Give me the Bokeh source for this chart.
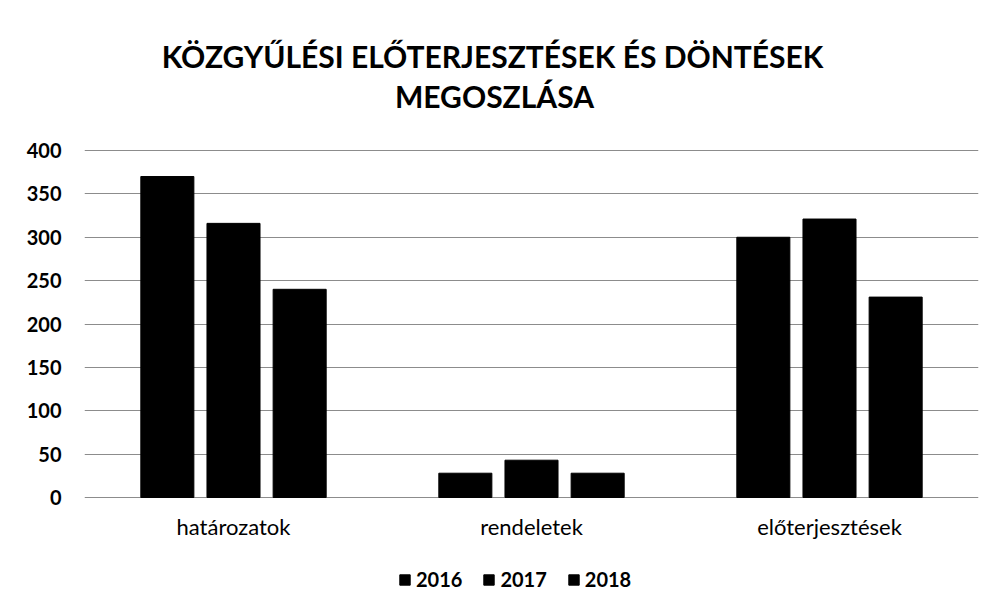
from bokeh.plotting import figure
from bokeh.models import (ColumnDataSource, FactorRange, Range1d, FixedTicker,
                          Legend, LegendItem, Label)
from bokeh.core.properties import value
from bokeh.transform import dodge
from bokeh.embed import file_html
from bokeh.resources import INLINE

categories = ["határozatok", "rendeletek", "előterjesztések"]
years = ["2016", "2017", "2018"]
v2016 = [370, 28, 300]
v2017 = [316, 43, 321]
v2018 = [240, 28, 231]
y_ticks = [0, 50, 100, 150, 200, 250, 300, 350, 400]
title_lines = ["KÖZGYŰLÉSI ELŐTERJESZTÉSEK ÉS DÖNTÉSEK", "MEGOSZLÁSA"]

FONT = "Lato"

# layout (pixels)
W, H = 984, 600
FRAME_L, FRAME_R = 84, 978
FRAME_T, FRAME_B = 8, H
ZERO_PX, TOP_PX = 497, 150      # pixel rows of value 0 and value 400
AXIS_MAX = 400
per_px = AXIS_MAX / (ZERO_PX - TOP_PX)
y_start = -(FRAME_B - ZERO_PX) * per_px
y_end = (ZERO_PX - FRAME_T) * per_px

source = ColumnDataSource(dict(cat=categories, y2016=v2016, y2017=v2017, y2018=v2018))

p = figure(width=W, height=H, output_backend="svg", toolbar_location=None,
           x_range=FactorRange(*categories, range_padding=0),
           y_range=Range1d(y_start, y_end), x_axis_location=None,
           min_border_left=FRAME_L, min_border_right=W - FRAME_R,
           min_border_top=FRAME_T, min_border_bottom=0)
p.outline_line_color = None
p.background_fill_color = "white"
p.border_fill_color = "white"

offsets = [-0.222, 0.0, 0.222]
cols = ["y2016", "y2017", "y2018"]
renderers = []
for off, col in zip(offsets, cols):
    r = p.vbar(x=dodge("cat", off, range=p.x_range), top=col, width=0.178, source=source,
               fill_color="black", line_color="black")
    renderers.append(r)

# value axis
p.yaxis.ticker = FixedTicker(ticks=y_ticks)
p.yaxis.axis_line_color = None
p.yaxis.major_tick_line_color = None
p.yaxis.minor_tick_line_color = None
p.yaxis.major_tick_out = 0
p.yaxis.major_label_text_font = FONT
p.yaxis.major_label_text_font_size = "20px"
p.yaxis.major_label_text_font_style = "bold"
p.yaxis.major_label_text_color = "black"
p.yaxis.major_label_standoff = 23

p.xgrid.grid_line_color = None
p.ygrid.grid_line_color = "#8c8c8c"
p.ygrid.grid_line_width = 1

# category labels under the baseline
cat_label_y = -(526 - ZERO_PX) * per_px
p.text(x=categories, y=[cat_label_y] * len(categories), text=categories,
       text_font=value(FONT), text_font_size="22px", text_color="black",
       text_align="center", text_baseline="alphabetic")

# title: two centred lines (screen units relative to frame bottom-left)
for txt, cx, base in zip(title_lines, [492, 494], [55, 95]):
    p.add_layout(Label(x=cx - FRAME_L, y=FRAME_B - base, x_units="screen", y_units="screen",
                       text=txt, text_font=FONT, text_font_size="30px", text_font_style="bold",
                       text_color="black", text_align="center", text_baseline="alphabetic"))

legend = Legend(items=[LegendItem(label=y, renderers=[r]) for y, r in zip(years, renderers)],
                orientation="horizontal", location=(398 - FRAME_L, FRAME_B - 591),
                glyph_width=13, glyph_height=13, label_standoff=5, spacing=20,
                padding=0, margin=0, border_line_color=None, background_fill_alpha=0,
                label_text_font=FONT, label_text_font_size="20px",
                label_text_font_style="bold", label_text_color="black")
p.add_layout(legend, "center")

open("out.html", "w").write(file_html(p, INLINE))
